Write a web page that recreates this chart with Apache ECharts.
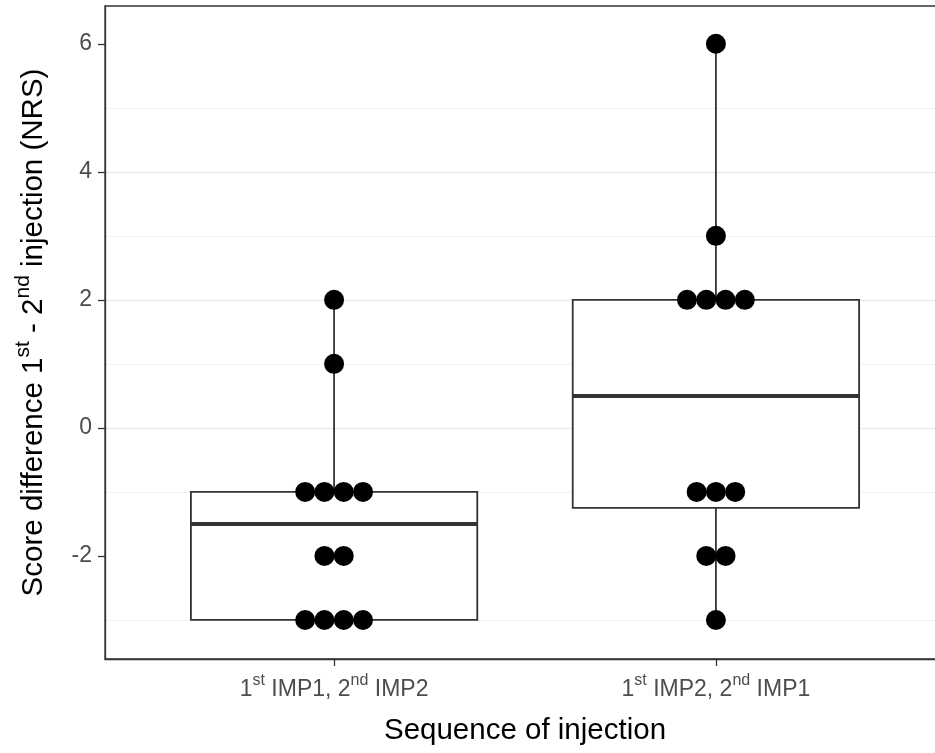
<!DOCTYPE html>
<html>
<head>
<meta charset="utf-8">
<script src="https://cdn.jsdelivr.net/npm/echarts@6/dist/echarts.min.js"></script>
<style>
  html, body { margin: 0; padding: 0; background: #fff; }
  #chart { width: 935px; height: 753px; }
</style>
</head>
<body>
<div id="chart"></div>
<script>
// data
const categories = ['1st IMP1, 2nd IMP2', '1st IMP2, 2nd IMP1'];
const scoresImp1First = [2, 1, -1, -1, -1, -1, -2, -2, -3, -3, -3, -3];
const scoresImp2First = [6, 3, 2, 2, 2, 2, -1, -1, -1, -2, -2, -3];
// [lower whisker, Q1, median, Q3, upper whisker]
const boxImp1First = [-3, -3, -1.5, -1, 2];
const boxImp2First = [-3, -1.25, 0.5, 2, 6];
const yTickValues = [-2, 0, 2, 4, 6];
const xTickValues = [1, 2];

const FONT = 'Liberation Sans';
const DOT_STEP = 0.0505;   // dot width in x units
const BOX_HALF = 0.375;

// turn "1st" into rich text with superscript
function supText(s) {
  return '{n|' + s.replace(/(\d)(st|nd|rd|th)/g, '$1}{s|$2}{n|') + '}';
}

// centre-stacked dotplot offsets
function dotPoints(values, xPos) {
  let counts = {};
  values.forEach(v => { counts[v] = (counts[v] || 0) + 1 });
  let seen = {};
  return values.map(v => {
    let i = seen[v] || 0;
    seen[v] = i + 1;
    return [xPos + (i - (counts[v] - 1) / 2) * DOT_STEP, v];
  });
}

const dots = dotPoints(scoresImp1First, 1).concat(dotPoints(scoresImp2First, 2));
const boxes = [[1].concat(boxImp1First), [2].concat(boxImp2First)];

let myChart = echarts.init(document.getElementById('chart'));

let option = {
  animation: false,
  backgroundColor: '#fff',
  grid: {
    left: 105, top: 6, width: 840, height: 653,
    containLabel: false,
    outerBoundsMode: 'none',
    show: true,
    borderColor: '#333333',
    borderWidth: 1.3,
    backgroundColor: '#fff'
  },
  xAxis: {
    type: 'value',
    min: 0.4, max: 2.6,
    splitNumber: 2,
    name: 'Sequence of injection',
    nameLocation: 'middle',
    nameGap: 57,
    nameTextStyle: { fontFamily: FONT, fontSize: 29.5, color: '#000' },
    axisLine: { show: true, onZero: false, lineStyle: { color: '#333333', width: 1.3 } },
    axisTick: { show: true, length: 7, customValues: xTickValues, lineStyle: { color: '#333333', width: 1.3 } },
    axisLabel: {
      customValues: xTickValues,
      margin: 14,
      formatter: v => supText(categories[Math.round(v) - 1] || ''),
      rich: {
        n: { fontFamily: FONT, fontSize: 23, color: '#4D4D4D', lineHeight: 34 },
        s: { fontFamily: FONT, fontSize: 16, color: '#4D4D4D', verticalAlign: 'top', lineHeight: 14 }
      }
    },
    splitLine: { show: true, showMinLine: false, showMaxLine: false, lineStyle: { color: '#EBEBEB', width: 1.4 } }
  },
  yAxis: {
    type: 'value',
    min: -3.61, max: 6.59,
    splitNumber: 5,
    name: supText('Score difference 1st - 2nd injection (NRS)'),
    nameLocation: 'middle',
    nameRotate: 90,
    nameGap: 50,
    nameTextStyle: {
      rich: {
        n: { fontFamily: FONT, fontSize: 29.5, color: '#000', lineHeight: 42 },
        s: { fontFamily: FONT, fontSize: 21, color: '#000', verticalAlign: 'top', lineHeight: 18 }
      }
    },
    axisLine: { show: true, onZero: false, lineStyle: { color: '#333333', width: 1.3 } },
    axisTick: { show: true, length: 7, customValues: yTickValues, lineStyle: { color: '#333333', width: 1.3 } },
    axisLabel: { customValues: yTickValues, margin: 13, fontFamily: FONT, fontSize: 23, color: '#4D4D4D' },
    splitLine: { show: true, showMinLine: false, showMaxLine: false, lineStyle: { color: '#EBEBEB', width: 1.4 } },
    minorTick: { show: false, splitNumber: 2 },
    minorSplitLine: { show: true, lineStyle: { color: '#F2F2F2', width: 1 } }
  },
  series: [
    {
      type: 'custom',
      z: 2,
      data: boxes,
      encode: { x: 0, y: [1, 2, 3, 4, 5] },
      renderItem: (params, api) => {
        let x = api.value(0);
        let lo = api.coord([x, api.value(1)]);
        let q1 = api.coord([x, api.value(2)]);
        let med = api.value(3);
        let q3 = api.coord([x, api.value(4)]);
        let hi = api.coord([x, api.value(5)]);
        let left = api.coord([x - BOX_HALF, api.value(4)]);
        let right = api.coord([x + BOX_HALF, api.value(2)]);
        let mL = api.coord([x - BOX_HALF, med]);
        let mR = api.coord([x + BOX_HALF, med]);
        let lineStyle = { stroke: '#333333', lineWidth: 1.8 };
        return {
          type: 'group',
          children: [
            { type: 'line', shape: { x1: lo[0], y1: lo[1], x2: q1[0], y2: q1[1] }, style: lineStyle },
            { type: 'line', shape: { x1: q3[0], y1: q3[1], x2: hi[0], y2: hi[1] }, style: lineStyle },
            { type: 'rect', shape: { x: left[0], y: left[1], width: right[0] - left[0], height: right[1] - left[1] },
              style: { fill: '#fff', stroke: '#333333', lineWidth: 1.8 } },
            { type: 'line', shape: { x1: mL[0], y1: mL[1], x2: mR[0], y2: mR[1] },
              style: { stroke: '#333333', lineWidth: 4 } }
          ]
        };
      }
    },
    {
      type: 'scatter',
      z: 3,
      data: dots,
      symbol: 'circle',
      symbolSize: 20,
      itemStyle: { color: '#000', opacity: 1 }
    }
  ]
};

myChart.setOption(option);
</script>
</body>
</html>
